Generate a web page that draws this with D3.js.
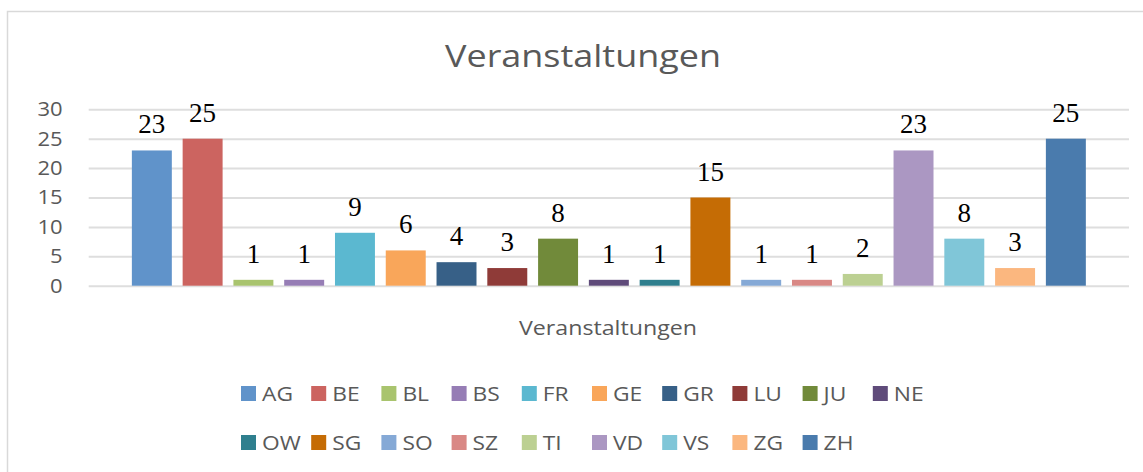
<!DOCTYPE html>
<html>
<head>
<meta charset="utf-8">
<script src="https://cdn.jsdelivr.net/npm/d3@7"></script>
<style>
  html, body { margin: 0; padding: 0; background: #fff; }
  svg { display: block; }
</style>
</head>
<body>
<script>
const cantons = ['AG', 'BE', 'BL', 'BS', 'FR', 'GE', 'GR', 'LU', 'JU', 'NE',
  'OW', 'SG', 'SO', 'SZ', 'TI', 'VD', 'VS', 'ZG', 'ZH'];
const events = [23, 25, 1, 1, 9, 6, 4, 3, 8, 1, 1, 15, 1, 1, 2, 23, 8, 3, 25];
const colors = ['#6093ca', '#cc6460', '#a9c46e', '#967db5', '#5bb8d0', '#f9a65a',
  '#376087', '#8f3b38', '#718a3a', '#5f4b7a', '#2f7f8e', '#c56c05', '#85a9d6',
  '#d98885', '#bcd092', '#ab97c2', '#80c6d8', '#fbb77f', '#4a7bad'];
const yTicks = [0, 5, 10, 15, 20, 25, 30];
const title = 'Veranstaltungen';
const axisTitle = 'Veranstaltungen';

const width = 1143;
const height = 472;
const plot = { left: 88.7, right: 1129, top: 109.3, bottom: 285.7 };
// the reference text is a little wider than Open Sans
const stretch = 1.16;

const svg = d3.select('body')
  .append('svg')
  .attr('width', width)
  .attr('height', height);

// chart frame
svg.append('path')
  .attr('d', `M7.5,${height} V11.5 H${width}`)
  .attr('fill', 'none')
  .attr('stroke', '#d9d9d9')
  .attr('stroke-width', 1.5);

svg.append('text')
  .attr('transform', `translate(583,67) scale(${stretch},1)`)
  .attr('text-anchor', 'middle')
  .attr('font-family', 'Open Sans')
  .attr('font-size', 31)
  .attr('fill', '#595959')
  .text(title);

const x = d3.scaleBand()
  .domain(cantons)
  .range([plot.left, plot.right])
  .paddingInner(0.213)
  .paddingOuter(0.85);

const y = d3.scaleLinear()
  .domain([0, 30])
  .range([plot.bottom, plot.top]);

// gridlines and tick labels
const yAxis = svg.append('g')
  .attr('transform', `translate(${plot.left},0)`)
  .call(d3.axisLeft(y).tickValues(yTicks).tickSize(-(plot.right - plot.left)).tickPadding(26));

yAxis.select('.domain').remove();
yAxis.selectAll('.tick line')
  .attr('stroke', '#dedede')
  .attr('stroke-width', 2);
yAxis.selectAll('.tick text')
  .attr('x', -26 / 1.1)
  .attr('transform', 'scale(1.1,1)')
  .attr('font-family', 'Open Sans')
  .attr('font-size', 20)
  .attr('fill', '#595959');

svg.append('g')
  .selectAll('rect')
  .data(cantons)
  .join('rect')
  .attr('x', d => x(d))
  .attr('width', x.bandwidth())
  .attr('y', (d, i) => y(events[i]))
  .attr('height', (d, i) => y(0) - y(events[i]))
  .attr('fill', (d, i) => colors[i]);

svg.append('g')
  .selectAll('text')
  .data(cantons)
  .join('text')
  .attr('x', d => x(d) + x.bandwidth() / 2)
  .attr('y', (d, i) => y(events[i]) - 17)
  .attr('text-anchor', 'middle')
  .attr('font-family', 'Liberation Serif')
  .attr('font-size', 27)
  .attr('fill', '#000')
  .text((d, i) => events[i]);

svg.append('text')
  .attr('transform', `translate(608,335) scale(${stretch},1)`)
  .attr('text-anchor', 'middle')
  .attr('font-family', 'Open Sans')
  .attr('font-size', 20)
  .attr('fill', '#595959')
  .text(axisTitle);

// legend: 10 items in the first row, the rest in the second
const legend = svg.append('g')
  .selectAll('g')
  .data(cantons)
  .join('g')
  .attr('transform', (d, i) => `translate(${241 + (i % 10) * 70.2},${i < 10 ? 393.5 : 442.5})`);

legend.append('rect')
  .attr('x', 0)
  .attr('y', -7.5)
  .attr('width', 15)
  .attr('height', 15)
  .attr('fill', (d, i) => colors[i]);

legend.append('text')
  .attr('transform', `translate(21,7.2) scale(1.14,1)`)
  .attr('font-family', 'Open Sans')
  .attr('font-size', 20)
  .attr('fill', '#595959')
  .text(d => d);
</script>
</body>
</html>
